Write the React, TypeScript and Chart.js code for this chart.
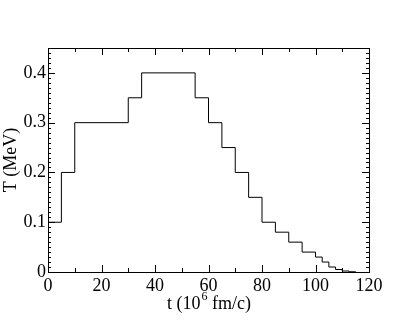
import React, { useEffect, useRef } from "react";
import { Chart, registerables } from "chart.js";

Chart.register(...registerables);

// Step start times (10^6 fm/c) and temperature values (MeV)
const stepTimes = [0, 5, 10, 30, 35, 55, 60, 65, 70, 75, 80, 85, 90, 95, 100, 102.5, 105, 107.5, 110, 112.5, 115];
const stepTemps = [0.1, 0.2, 0.3, 0.35, 0.4, 0.35, 0.3, 0.25, 0.2, 0.15, 0.1, 0.08, 0.06, 0.04, 0.03, 0.02, 0.01, 0.005, 0.002, 0.0005, 0];

const xTicks = [0, 20, 40, 60, 80, 100, 120];
const yTicks = [0, 0.1, 0.2, 0.3, 0.4];
const xMinorStep = 10;
const yMinorStep = 0.01;

const FONT = "'Liberation Serif', 'Times New Roman', serif";

const frameTicks = {
  id: "frameTicks",
  afterDraw(chart: any) {
    const { ctx, chartArea } = chart;
    const { left, right, top, bottom } = chartArea;
    const xs = chart.scales.x;
    const ys = chart.scales.y;
    ctx.save();
    ctx.strokeStyle = "#000";
    ctx.lineWidth = 1;
    ctx.strokeRect(Math.round(left) + 0.5, Math.round(top) + 0.5, Math.round(right - left), Math.round(bottom - top));
    ctx.beginPath();
    // x ticks
    for (let v = xs.min; v <= xs.max + 1e-9; v += xMinorStep) {
      const major = xTicks.some((t) => Math.abs(t - v) < 1e-6);
      const len = major ? 7 : 4;
      const px = Math.round(xs.getPixelForValue(v)) + 0.5;
      ctx.moveTo(px, bottom);
      ctx.lineTo(px, bottom - len);
      ctx.moveTo(px, top);
      ctx.lineTo(px, top + len);
    }
    // y ticks
    const n = Math.round((ys.max - ys.min) / yMinorStep);
    for (let i = 0; i <= n; i++) {
      const v = ys.min + i * yMinorStep;
      const major = yTicks.some((t) => Math.abs(t - v) < 1e-6);
      const len = major ? 7 : 3;
      const py = Math.round(ys.getPixelForValue(v)) + 0.5;
      ctx.moveTo(left, py);
      ctx.lineTo(left + len, py);
      ctx.moveTo(right, py);
      ctx.lineTo(right - len, py);
    }
    ctx.stroke();

    // x-axis title with superscript
    const cx = (left + right) / 2;
    const baseY = 309;
    ctx.fillStyle = "#000";
    ctx.textBaseline = "alphabetic";
    ctx.textAlign = "left";
    const big = `18px ${FONT}`;
    const small = `12px ${FONT}`;
    const p1 = "t (10";
    const p2 = "6";
    const p3 = " fm/c)";
    ctx.font = big;
    const w1 = ctx.measureText(p1).width;
    const w3 = ctx.measureText(p3).width;
    ctx.font = small;
    const w2 = ctx.measureText(p2).width;
    let x0 = cx - (w1 + w2 + w3) / 2;
    ctx.font = big;
    ctx.fillText(p1, x0, baseY);
    ctx.font = small;
    ctx.fillText(p2, x0 + w1 + 1, baseY - 9);
    ctx.font = big;
    ctx.fillText(p3, x0 + w1 + w2 + 1, baseY);
    ctx.restore();
  },
};

export default function App() {
  const ref = useRef<HTMLCanvasElement | null>(null);
  useEffect(() => {
    if (!ref.current) return;
    const chart = new Chart(ref.current, {
      type: "line",
      data: {
        datasets: [
          {
            data: stepTimes.map((t, i) => ({ x: t, y: stepTemps[i] })),
            stepped: "before",
            borderColor: "#000",
            borderWidth: 1,
            pointRadius: 0,
            fill: false,
          },
        ],
      },
      options: {
        animation: false,
        responsive: false,
        layout: { padding: { top: 48, right: 46, left: 0, bottom: 0 } },
        plugins: { legend: { display: false }, tooltip: { enabled: false } },
        scales: {
          x: {
            type: "linear",
            min: 0,
            max: 120,
            afterFit: (s: any) => {
              s.height = 49;
            },
            afterBuildTicks: (s: any) => {
              s.ticks = xTicks.map((v) => ({ value: v }));
            },
            grid: { display: false, drawTicks: false },
            border: { display: false },
            ticks: {
              padding: 3,
              color: "#000",
              font: { family: FONT, size: 18 },
              maxRotation: 0,
              callback: (v: any) => String(v),
            },
          },
          y: {
            type: "linear",
            min: 0,
            max: 0.45,
            afterFit: (s: any) => {
              s.width = 48;
            },
            afterBuildTicks: (s: any) => {
              s.ticks = yTicks.map((v) => ({ value: v }));
            },
            grid: { display: false, drawTicks: false },
            border: { display: false },
            title: {
              display: true,
              text: "T (MeV)",
              color: "#000",
              font: { family: FONT, size: 18 },
              padding: 0,
            },
            ticks: {
              padding: 2,
              color: "#000",
              font: { family: FONT, size: 18 },
              callback: (v: any) => (v === 0 ? "0" : String(Math.round(v * 10) / 10)),
            },
          },
        },
      },
      plugins: [frameTicks],
    });
    return () => chart.destroy();
  }, []);
  return (
    <canvas
      ref={ref}
      width={415}
      height={321}
      style={{ position: "fixed", left: 0, top: 0, width: 415, height: 321, display: "block" }}
    />
  );
}
